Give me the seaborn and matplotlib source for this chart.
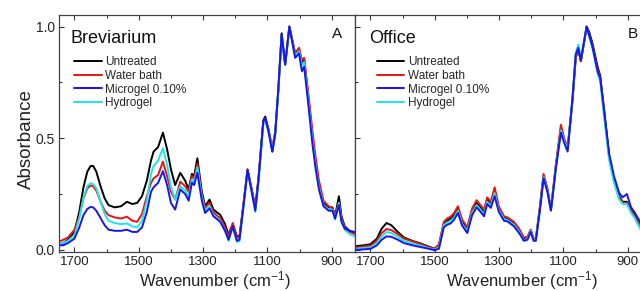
import matplotlib
matplotlib.use("Agg")
import matplotlib.pyplot as plt
import matplotlib.ticker as ticker
import seaborn as sns

sns.set_style("ticks")
plt.rcParams["font.family"] = ["Liberation Sans", "DejaVu Sans"]
plt.rcParams["mathtext.fontset"] = "custom"
plt.rcParams["mathtext.rm"] = "Liberation Sans"
plt.rcParams["mathtext.default"] = "regular"

# ---- panel A : Breviarium ----
brev_wn = [1748, 1735, 1720, 1700, 1685, 1672, 1660, 1650, 1642, 1632, 1620, 1606, 1594, 1575, 1555, 1537, 1520,
           1505, 1490, 1475, 1462, 1454, 1440, 1425, 1412, 1400, 1387, 1371, 1356, 1345, 1335,
           1328, 1318, 1304, 1294, 1280, 1268, 1255, 1247, 1232, 1221, 1208, 1195, 1187, 1175,
           1162, 1149, 1138, 1128, 1113, 1107, 1097, 1085, 1076, 1066, 1056, 1045, 1032, 1014,
           1002, 993, 986, 973, 960, 950, 940, 926, 910, 898, 890, 878, 870, 860, 845, 828]
brev_untreated = [0.02, 0.03, 0.045, 0.08, 0.17, 0.28, 0.35, 0.375, 0.376, 0.35, 0.29, 0.23, 0.20, 0.19, 0.195, 0.215, 0.205,
                  0.21, 0.24, 0.31, 0.40, 0.44, 0.46, 0.525, 0.45, 0.36, 0.29, 0.345, 0.31, 0.27, 0.34,
                  0.33, 0.41, 0.26, 0.195, 0.225, 0.18, 0.165, 0.157, 0.115, 0.068, 0.115, 0.06, 0.06, 0.20,
                  0.36, 0.27, 0.19, 0.32, 0.58, 0.597, 0.54, 0.44, 0.52, 0.72, 0.97, 0.83, 1.00, 0.88,
                  0.90, 0.84, 0.85, 0.68, 0.50, 0.38, 0.29, 0.21, 0.19, 0.19, 0.15, 0.24, 0.15, 0.105, 0.085, 0.075]
brev_water = [0.035, 0.045, 0.055, 0.09, 0.15, 0.23, 0.275, 0.288, 0.285, 0.265, 0.22, 0.175, 0.155, 0.145, 0.14, 0.148, 0.13,
              0.125, 0.16, 0.24, 0.30, 0.32, 0.335, 0.395, 0.33, 0.26, 0.225, 0.305, 0.285, 0.26, 0.33,
              0.32, 0.385, 0.245, 0.188, 0.21, 0.168, 0.15, 0.143, 0.10, 0.06, 0.12, 0.055, 0.055, 0.20,
              0.36, 0.27, 0.185, 0.32, 0.575, 0.59, 0.54, 0.46, 0.53, 0.72, 0.96, 0.83, 1.00, 0.88,
              0.905, 0.85, 0.86, 0.70, 0.53, 0.41, 0.31, 0.22, 0.195, 0.185, 0.155, 0.21, 0.14, 0.10, 0.08, 0.07]
brev_microgel = [0.02, 0.02, 0.03, 0.05, 0.10, 0.155, 0.183, 0.192, 0.19, 0.175, 0.145, 0.11, 0.09, 0.085, 0.085, 0.09, 0.08,
                 0.08, 0.10, 0.17, 0.26, 0.28, 0.30, 0.352, 0.29, 0.21, 0.18, 0.27, 0.25, 0.22, 0.30,
                 0.29, 0.345, 0.22, 0.165, 0.185, 0.15, 0.135, 0.125, 0.085, 0.045, 0.105, 0.04, 0.045, 0.19,
                 0.355, 0.26, 0.175, 0.31, 0.575, 0.59, 0.53, 0.44, 0.52, 0.73, 0.965, 0.83, 1.00, 0.86,
                 0.88, 0.80, 0.82, 0.65, 0.47, 0.36, 0.27, 0.195, 0.175, 0.175, 0.14, 0.20, 0.125, 0.095, 0.085, 0.08]
brev_hydrogel = [0.025, 0.03, 0.04, 0.065, 0.14, 0.235, 0.285, 0.298, 0.295, 0.275, 0.22, 0.16, 0.13, 0.12, 0.115, 0.118, 0.105,
                 0.10, 0.13, 0.22, 0.34, 0.375, 0.40, 0.455, 0.38, 0.28, 0.225, 0.285, 0.265, 0.24, 0.315,
                 0.30, 0.37, 0.235, 0.175, 0.195, 0.155, 0.14, 0.13, 0.085, 0.04, 0.10, 0.035, 0.04, 0.19,
                 0.35, 0.26, 0.17, 0.30, 0.56, 0.58, 0.53, 0.45, 0.52, 0.72, 0.96, 0.83, 0.995, 0.87,
                 0.89, 0.83, 0.84, 0.67, 0.49, 0.37, 0.28, 0.20, 0.18, 0.18, 0.135, 0.21, 0.13, 0.09, 0.07, 0.06]

# ---- panel B : Office ----
off_wn = [1748, 1735, 1720, 1700, 1680, 1665, 1650, 1635, 1615, 1596, 1570, 1544, 1520, 1500,
          1487, 1472, 1462, 1451, 1440, 1428, 1415, 1399, 1384, 1370, 1358, 1347, 1337, 1326,
          1314, 1301, 1285, 1274, 1254, 1238, 1223, 1212, 1202, 1193, 1186, 1173, 1162, 1150,
          1139, 1124, 1108, 1098, 1087, 1072, 1062, 1054, 1046, 1028, 1020, 1010, 994, 986,
          974, 958, 943, 927, 916, 903, 890, 880, 860, 840, 825]
off_untreated = [0.015, 0.018, 0.02, 0.025, 0.05, 0.095, 0.12, 0.11, 0.08, 0.055, 0.04, 0.028, 0.015, 0.005,
                 0.02, 0.115, 0.13, 0.14, 0.155, 0.185, 0.125, 0.095, 0.175, 0.21, 0.19, 0.17, 0.225, 0.205,
                 0.265, 0.185, 0.145, 0.14, 0.12, 0.09, 0.05, 0.055, 0.088, 0.05, 0.048, 0.19, 0.33, 0.27,
                 0.18, 0.37, 0.545, 0.49, 0.455, 0.67, 0.86, 0.90, 0.845, 1.0, 0.975, 0.925, 0.82, 0.78,
                 0.63, 0.42, 0.315, 0.24, 0.215, 0.215, 0.18, 0.16, 0.105, 0.08, 0.07]
off_water = [0.008, 0.012, 0.015, 0.018, 0.04, 0.075, 0.093, 0.088, 0.07, 0.05, 0.038, 0.025, 0.012, 0.005,
             0.025, 0.125, 0.14, 0.148, 0.165, 0.195, 0.135, 0.102, 0.185, 0.222, 0.20, 0.18, 0.235, 0.215,
             0.28, 0.195, 0.15, 0.145, 0.125, 0.095, 0.055, 0.058, 0.09, 0.05, 0.048, 0.20, 0.34, 0.275,
             0.18, 0.38, 0.56, 0.50, 0.46, 0.67, 0.86, 0.90, 0.845, 1.0, 0.965, 0.915, 0.81, 0.775,
             0.62, 0.415, 0.31, 0.235, 0.21, 0.21, 0.175, 0.155, 0.10, 0.075, 0.065]
off_microgel = [0.0, 0.0, 0.002, 0.004, 0.02, 0.045, 0.06, 0.058, 0.045, 0.03, 0.02, 0.012, 0.005, -0.002,
                0.005, 0.10, 0.112, 0.118, 0.135, 0.165, 0.108, 0.075, 0.155, 0.19, 0.17, 0.15, 0.205, 0.188,
                0.24, 0.17, 0.13, 0.127, 0.105, 0.075, 0.04, 0.045, 0.08, 0.04, 0.04, 0.18, 0.32, 0.26,
                0.175, 0.36, 0.525, 0.48, 0.44, 0.68, 0.875, 0.905, 0.85, 1.0, 0.96, 0.91, 0.80, 0.77,
                0.625, 0.43, 0.33, 0.255, 0.235, 0.25, 0.19, 0.17, 0.12, 0.09, 0.08]
off_hydrogel = [0.005, 0.006, 0.008, 0.01, 0.03, 0.06, 0.08, 0.075, 0.058, 0.04, 0.028, 0.018, 0.008, 0.0,
                0.012, 0.11, 0.122, 0.128, 0.145, 0.175, 0.115, 0.085, 0.165, 0.20, 0.18, 0.16, 0.215, 0.197,
                0.255, 0.178, 0.138, 0.133, 0.112, 0.082, 0.042, 0.05, 0.085, 0.045, 0.043, 0.185, 0.325, 0.265,
                0.178, 0.365, 0.535, 0.49, 0.45, 0.68, 0.88, 0.92, 0.855, 0.995, 0.955, 0.905, 0.79, 0.755,
                0.60, 0.40, 0.30, 0.225, 0.205, 0.205, 0.165, 0.145, 0.09, 0.07, 0.06]

labels = ["Untreated", "Water bath", "Microgel 0.10%", "Hydrogel"]
colors = ["#000000", "#ee1111", "#1515f0", "#18e8e8"]
draw_order = [0, 1, 3, 2]

panels = [
    ("Breviarium", "A", brev_wn, [brev_untreated, brev_water, brev_microgel, brev_hydrogel]),
    ("Office", "B", off_wn, [off_untreated, off_water, off_microgel, off_hydrogel]),
]

fig = plt.figure(figsize=(6.4, 2.91), dpi=100)
W, H = 640, 291
ax_a = fig.add_axes([59 / W, (H - 252) / H, 296 / W, 237 / H])
ax_b = fig.add_axes([355 / W, (H - 252) / H, 296 / W, 237 / H])

for ax, (name, letter, wn, series) in zip([ax_a, ax_b], panels):
    for i in draw_order:
        sns.lineplot(x=wn, y=series[i], ax=ax, color=colors[i], lw=1.4,
                     label=labels[i], sort=False)
    ax.set_xlim(1748, 828)
    ax.set_ylim(-0.01, 1.052)
    ax.xaxis.set_major_locator(ticker.FixedLocator([1700, 1500, 1300, 1100, 900]))
    ax.xaxis.set_minor_locator(ticker.MultipleLocator(100))
    ax.yaxis.set_major_locator(ticker.FixedLocator([0.0, 0.5, 1.0]))
    ax.yaxis.set_minor_locator(ticker.MultipleLocator(0.25))
    ax.yaxis.set_major_formatter(ticker.FormatStrFormatter("%.1f"))
    ax.tick_params(which="both", direction="in", top=True, right=False,
                   width=0.8, colors="#333333", labelcolor="#222222", labelsize=9.5, pad=3)
    ax.tick_params(axis="y", labelsize=10)
    ax.tick_params(which="major", length=3.5)
    ax.tick_params(which="minor", length=2.2)
    for sp in ax.spines.values():
        sp.set_color("#444444")
        sp.set_linewidth(0.9)
    ax.set_xlabel("Wavenumber (cm$^{-1}$)", fontsize=12, labelpad=1, color="#222222")
    ax.set_ylabel("")
    handles, labs = ax.get_legend_handles_labels()
    order = [labs.index(l) for l in labels]
    x0 = 0.05 if letter == "A" else 0.073
    ax.legend([handles[k] for k in order], [labs[k] for k in order],
              loc="upper left", bbox_to_anchor=(x0, 0.827), frameon=False,
              fontsize=8.5, handlelength=2.35, handletextpad=0.3, labelspacing=0.15,
              borderpad=0, borderaxespad=0)
    tx = 0.04 if letter == "A" else 0.047
    ax.text(tx, 0.90, name, transform=ax.transAxes, fontsize=13, va="center", ha="left",
            color="#111111")
    ax.text(0.938, 0.918, letter, transform=ax.transAxes, fontsize=11, va="center",
            ha="center", color="#111111")

ax_a.xaxis.set_label_coords(0.527, -0.072)
ax_b.xaxis.set_label_coords(0.564, -0.072)
ax_a.set_ylabel("Absorbance", fontsize=13.5, color="#222222")
ax_a.yaxis.set_label_coords(-0.08, 0.475)
ax_b.tick_params(axis="y", labelleft=False)

fig.savefig("out.png", dpi=100)
